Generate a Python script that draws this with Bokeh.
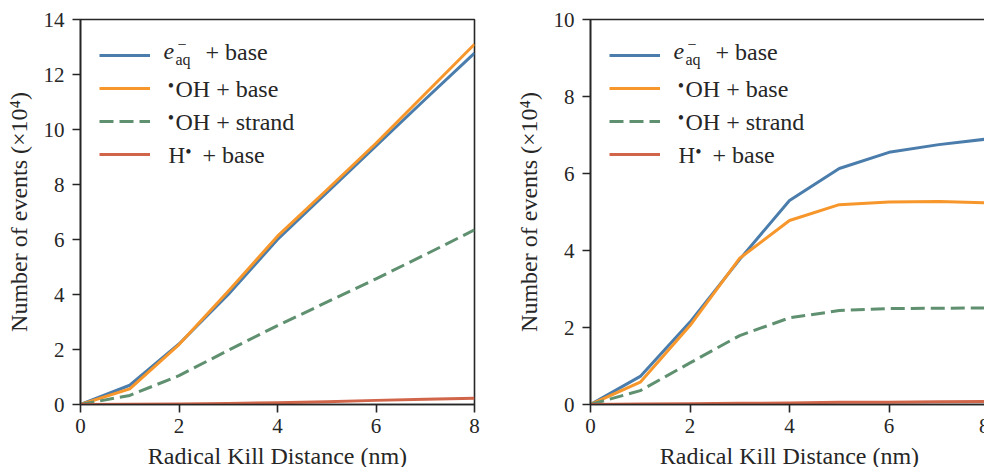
from bokeh.plotting import figure
from bokeh.layouts import row
from bokeh.models import Range1d, FixedTicker, Legend, LegendItem, Label
from bokeh.embed import file_html
from bokeh.resources import INLINE

# Radical kill distance (nm)
distance_nm = [0, 1, 2, 3, 4, 5, 6, 7, 8]

# Left panel: number of events (x 10^4)
left_eaq_base = [0, 0.70, 2.20, 4.00, 6.00, 7.70, 9.40, 11.10, 12.78]
left_oh_base = [0, 0.57, 2.18, 4.12, 6.12, 7.80, 9.50, 11.30, 13.10]
left_oh_strand = [0, 0.33, 1.05, 1.97, 2.87, 3.72, 4.57, 5.45, 6.35]
left_h_base = [0, 0.01, 0.02, 0.04, 0.06, 0.10, 0.15, 0.19, 0.23]

# Right panel: number of events (x 10^4)
right_eaq_base = [0, 0.73, 2.14, 3.77, 5.30, 6.13, 6.55, 6.75, 6.90]
right_oh_base = [0, 0.58, 2.05, 3.80, 4.78, 5.19, 5.26, 5.27, 5.24]
right_oh_strand = [0, 0.36, 1.08, 1.79, 2.25, 2.44, 2.49, 2.50, 2.51]
right_h_base = [0, 0.01, 0.02, 0.03, 0.04, 0.06, 0.06, 0.07, 0.08]

x_ticks = [0, 2, 4, 6, 8]
left_y_ticks = [0, 2, 4, 6, 8, 10, 12, 14]
right_y_ticks = [0, 2, 4, 6, 8, 10]

FONT = "Liberation Serif"
INK = "#262626"
BLUE = "#4a7dab"
ORANGE = "#f6962b"
GREEN = "#5f9070"
RED = "#d1654a"


def text(p, s, x, y, size, style="normal", align="left"):
    # y is the vertical middle of the text, in pixels above the frame's bottom edge
    p.add_layout(Label(x=x, y=y, x_units="screen", y_units="screen", text=s,
                       text_font=FONT, text_font_size=f"{size}px",
                       text_font_style=style, text_color=INK,
                       text_align=align, text_baseline="middle"))


def panel(series, y_max, y_ticks, width, border_right):
    p = figure(width=width, height=476, output_backend="svg", toolbar_location=None,
               x_range=Range1d(0, 8), y_range=Range1d(0, y_max),
               min_border_left=80, min_border_right=border_right,
               min_border_top=19, min_border_bottom=72)
    p.grid.visible = False
    p.outline_line_color = INK
    p.outline_line_width = 1.6
    p.outline_line_alpha = 1
    for ax in (p.xaxis[0], p.yaxis[0]):
        ax.axis_line_color = INK
        ax.axis_line_width = 1.6
        ax.major_tick_line_color = INK
        ax.major_tick_line_width = 1.6
        ax.major_tick_out = 8
        ax.major_tick_in = 0
        ax.minor_tick_line_color = None
        ax.major_label_text_font = FONT
        ax.major_label_text_font_size = "21px"
        ax.major_label_text_color = INK
        ax.axis_label_text_font = FONT
        ax.axis_label_text_font_size = "24px"
        ax.axis_label_text_font_style = "normal"
        ax.axis_label_text_color = INK
    p.xaxis.ticker = FixedTicker(ticks=x_ticks)
    p.yaxis.ticker = FixedTicker(ticks=y_ticks)
    p.xaxis.major_label_standoff = 6
    p.yaxis.major_label_standoff = 8
    p.xaxis.axis_label = "Radical Kill Distance (nm)"
    p.xaxis.axis_label_standoff = 7
    p.yaxis.axis_label = "Number of events (×10⁴)"
    p.yaxis.axis_label_standoff = 9

    eaq, oh, strand, h = series
    style = dict(line_width=3, line_join="round")
    r1 = p.line(distance_nm, eaq, line_color=BLUE, **style)
    r2 = p.line(distance_nm, oh, line_color=ORANGE, **style)
    r3 = p.line(distance_nm, strand, line_color=GREEN, line_dash="14 6", **style)
    r4 = p.line(distance_nm, h, line_color=RED, **style)

    legend = Legend(items=[LegendItem(label=" ", renderers=[r]) for r in (r1, r2, r3, r4)],
                    location=(19, 240.5), padding=0, margin=0, spacing=13,
                    glyph_width=51, glyph_height=20, label_height=20, label_width=0,
                    label_standoff=0, label_text_font_size="8px",
                    border_line_color=None, background_fill_alpha=0)
    p.add_layout(legend, "center")

    # Legend entries with sub/superscripts
    text(p, "e", 83, 352.6, 24, "italic")
    text(p, "aq", 95, 345.4, 16)
    text(p, "−", 97, 360.4, 16)
    text(p, "+ base", 125, 352.6, 24)

    text(p, "•", 90.5, 318.3, 18, align="center")
    text(p, "OH + base", 95, 315.4, 24)

    text(p, "•", 90.5, 286.3, 18, align="center")
    text(p, "OH + strand", 95, 282.1, 24)

    text(p, "H", 88, 249.1, 23)
    text(p, "•", 108, 252.3, 18, align="center")
    text(p, "+ base", 122, 249.1, 24)
    return p


left = panel((left_eaq_base, left_oh_base, left_oh_strand, left_h_base),
             14, left_y_ticks, 510, 36)
right = panel((right_eaq_base, right_oh_base, right_oh_strand, right_h_base),
              10, right_y_ticks, 479, 1)

layout = row(left, right)
open("out.html", "w").write(file_html(layout, INLINE))
